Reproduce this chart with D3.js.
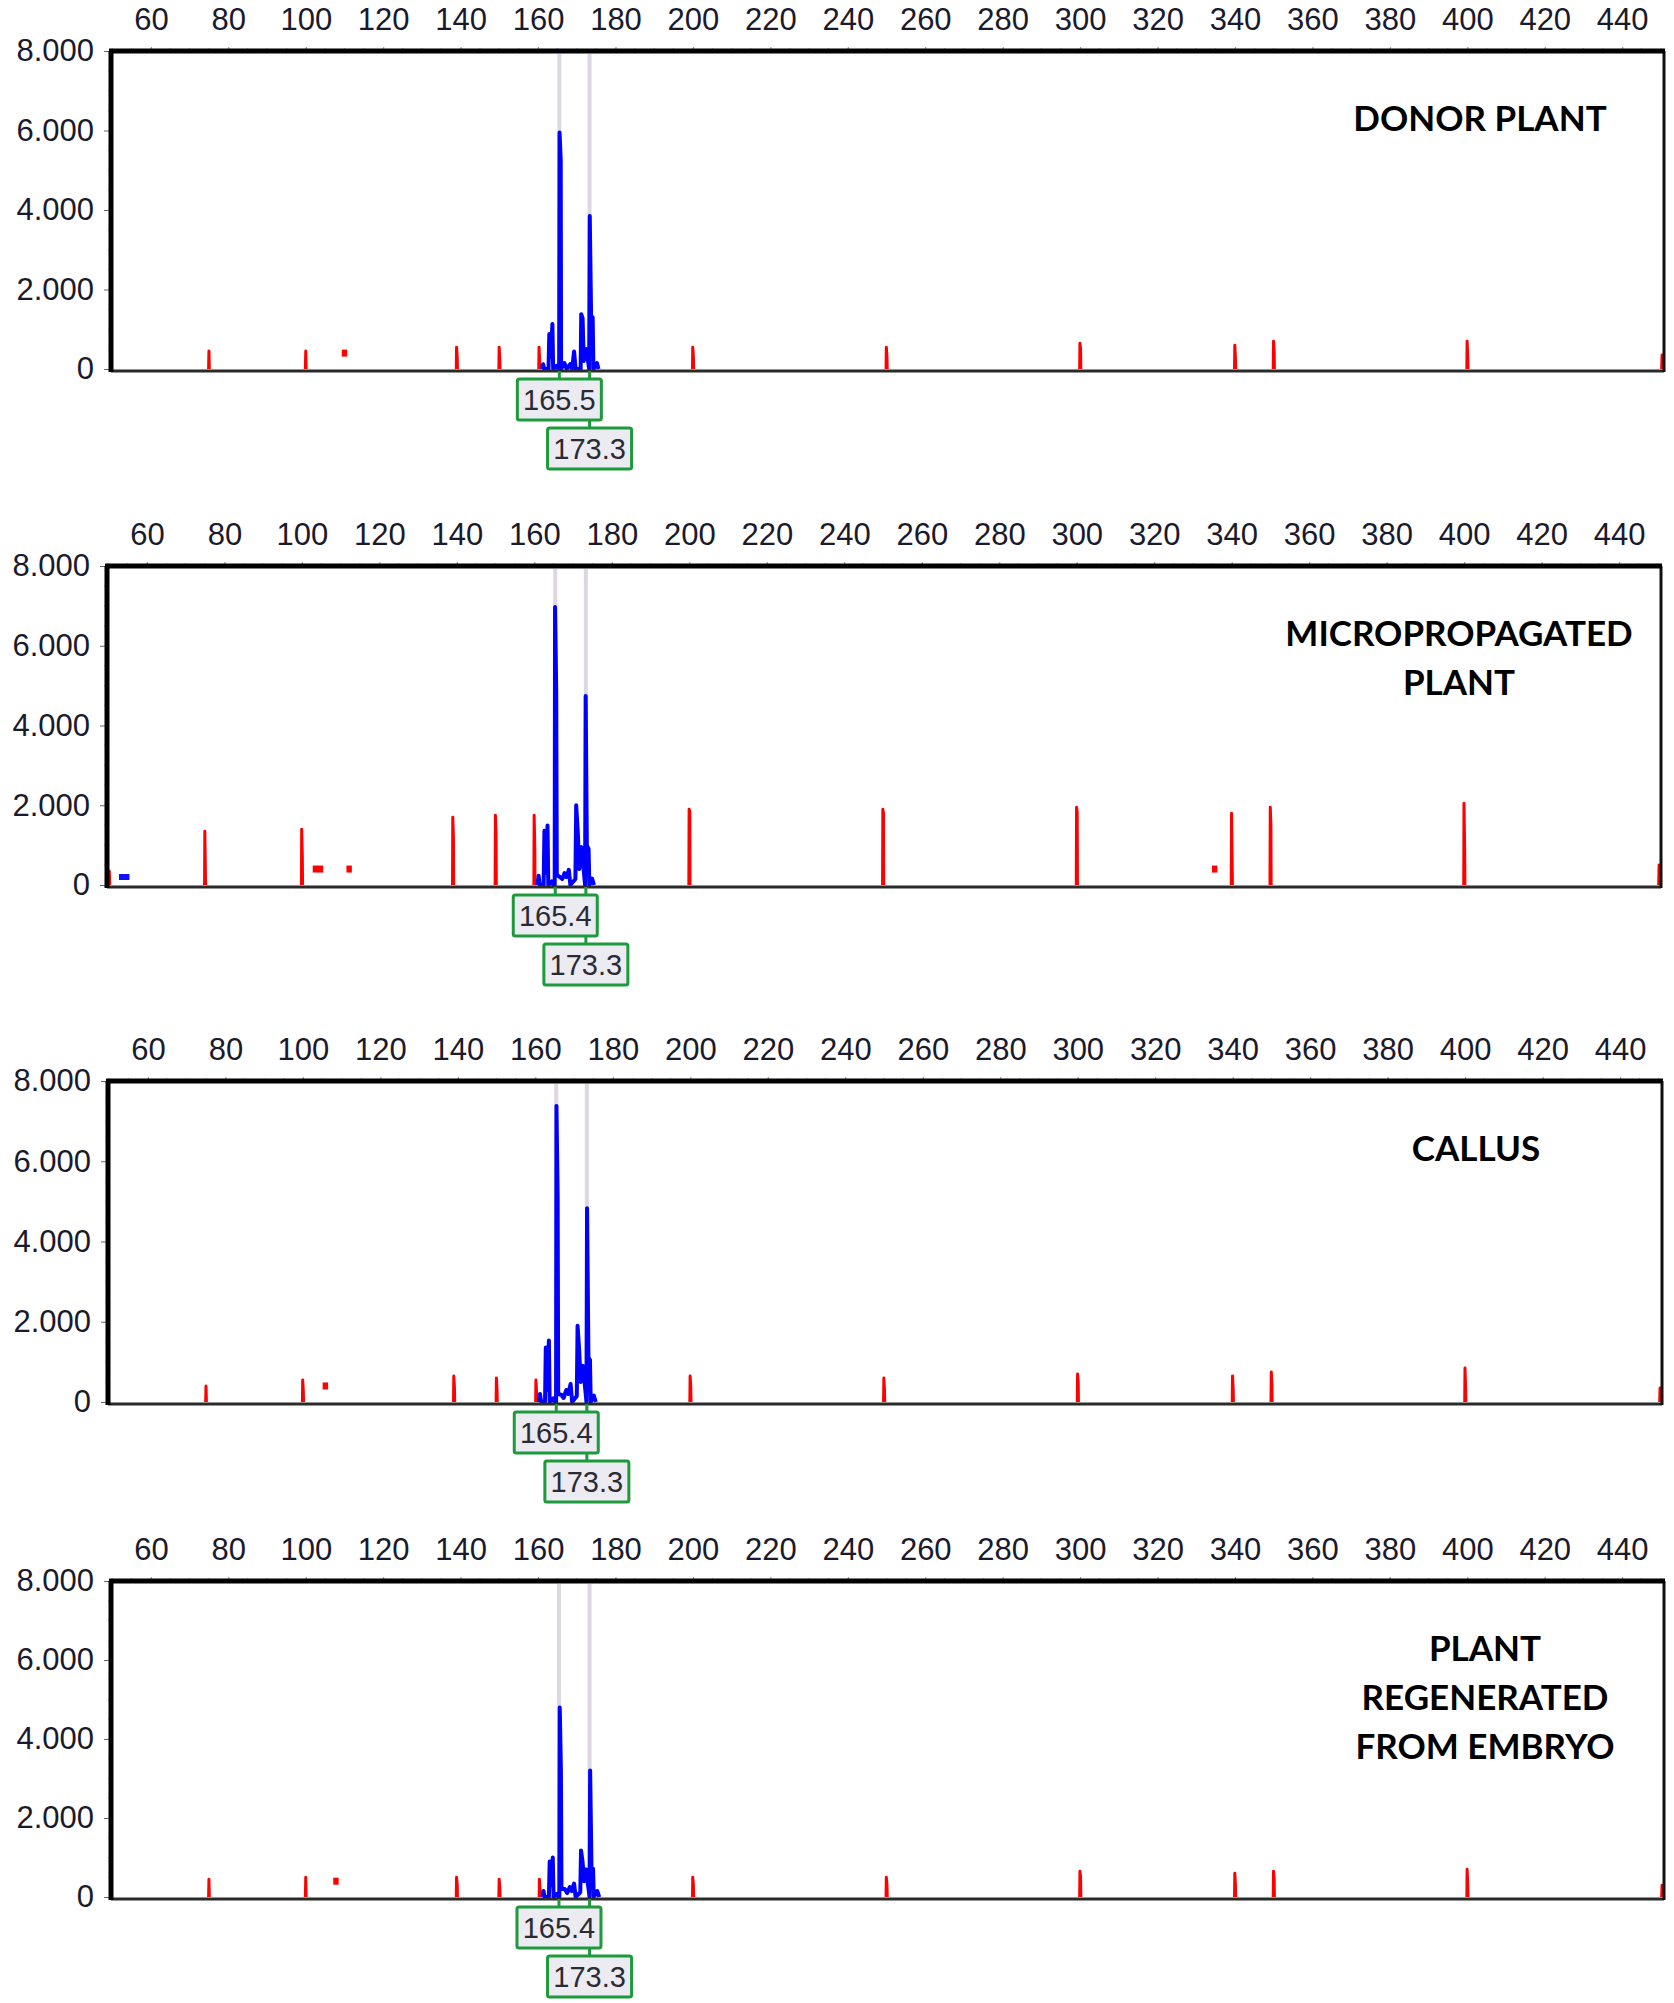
<!DOCTYPE html>
<html><head><meta charset="utf-8">
<script src="https://cdn.jsdelivr.net/npm/d3@7/dist/d3.min.js"></script>
<style>body{margin:0;background:#fff}svg{display:block}</style>
</head><body>
<svg id="chart" width="1674" height="2003"></svg>
<script>
// ---------- DATA ----------
const xTickValues = [60,80,100,120,140,160,180,200,220,240,260,280,300,320,340,360,380,400,420,440];
const yTickValues = [0,2000,4000,6000,8000];
const panelTitles = [
  ["DONOR PLANT"],
  ["MICROPROPAGATED","PLANT"],
  ["CALLUS"],
  ["PLANT","REGENERATED","FROM EMBRYO"]
];
const binCalls = [[165.5,173.3],[165.4,173.3],[165.4,173.3],[165.4,173.3]];

// blue (sample) trace, [size bp, RFU]
const blueDonor = [[161.0,0],[161.3,120],[161.6,0],[162.7,0],[162.9,880],[163.3,300],[163.7,1130],[163.9,0],[164.8,80],[165.2,0],[165.45,0],[165.55,5950],[165.85,5250],[165.95,0],[166.8,150],[167.4,0],[168.3,120],[168.8,0],[169.3,440],[169.7,0],[171.0,0],[171.15,1380],[171.5,1280],[171.8,200],[172.5,500],[173.2,0],[173.35,3850],[173.7,1330],[174.1,1300],[174.3,0],[175.2,150],[175.6,0]];
const blueMicro = [[160.8,0],[161.1,230],[161.4,0],[162.4,0],[162.6,1360],[163.0,300],[163.4,1490],[163.6,0],[164.5,90],[164.9,0],[165.25,0],[165.35,6970],[165.65,4860],[165.8,250],[166.6,200],[167.2,150],[167.8,300],[168.3,200],[168.9,380],[169.3,0],[170.6,150],[170.8,2000],[171.2,1360],[171.6,400],[172.2,950],[173.1,0],[173.25,4740],[173.55,1000],[174.0,900],[174.2,0],[174.9,160],[175.4,0]];
const blueCallus = [[160.9,0],[161.2,200],[161.5,0],[162.5,0],[162.7,1360],[163.1,300],[163.5,1530],[163.7,0],[164.6,90],[165.0,0],[165.35,0],[165.45,7380],[165.75,5200],[165.9,200],[166.7,180],[167.3,100],[168.0,300],[168.5,200],[169.1,450],[169.5,0],[170.7,150],[170.9,1900],[171.3,1320],[171.7,500],[172.3,900],[173.2,0],[173.35,4830],[173.7,1110],[174.1,1050],[174.3,0],[175.1,160],[175.6,0]];
const blueEmbryo = [[161.1,0],[161.4,150],[161.7,0],[162.8,0],[163.0,900],[163.4,300],[163.8,1000],[164.0,0],[164.9,80],[165.3,0],[165.5,0],[165.6,4800],[165.9,3200],[166.05,200],[166.9,200],[167.5,100],[168.2,250],[168.7,150],[169.3,340],[169.7,0],[170.9,120],[171.1,1180],[171.5,885],[171.9,400],[172.4,700],[173.3,0],[173.45,3200],[173.8,720],[174.2,715],[174.4,0],[175.3,150],[175.8,0]];

// red (size standard) peaks, [size bp, RFU, shoulder RFU]
const redDonor  = [[75,450,0],[100,450,0],[139,550,300],[150,550,250],[160.3,550,200],[200,550,300],[250,550,300],[300,650,500],[340,600,250],[350,700,450],[400,700,300],[450.3,350,0]];
const redMicro  = [[50.3,350,0],[75,1350,150],[100,1400,700],[139,1700,1150],[150,1750,1300],[160,1750,900],[200,1900,1850],[250,1900,1800],[300,1950,1800],[340,1800,500],[350,1950,1500],[400,2050,900],[450.3,500,0]];
const redCallus = [[75,400,0],[100,550,250],[139,650,350],[150,600,300],[160.2,550,250],[200,650,350],[250,600,300],[300,700,500],[340,650,300],[350,750,450],[400,850,300],[450.3,350,0]];
const redEmbryo = [[75,450,0],[100,500,0],[139,500,300],[150,450,250],[160.4,450,200],[200,500,300],[250,500,300],[300,650,500],[340,600,300],[350,650,450],[400,700,300],[450.3,300,0]];

// small flat-topped blobs, [size bp, RFU]
const redDotsDonor  = [[110,400]];
const redDotsMicro  = [[103.5,400],[104.8,400],[112.2,400],[335.6,400]];
const redDotsCallus = [[105.8,400]];
const redDotsEmbryo = [[107.8,400]];
const blueDotsMicro = [[53.5,200],[54.8,200]];

// ---------- LAYOUT ----------
const panels = [
  {left:111,right:1664,top:51, bottom:371, titleX:1480, blue:blueDonor, red:redDonor, redDots:redDotsDonor, blueDots:[]},
  {left:107,right:1661,top:566,bottom:887, titleX:1459, blue:blueMicro, red:redMicro, redDots:redDotsMicro, blueDots:blueDotsMicro},
  {left:108,right:1662,top:1081,bottom:1404,titleX:1476, blue:blueCallus, red:redCallus, redDots:redDotsCallus, blueDots:[]},
  {left:111,right:1664,top:1581,bottom:1899,titleX:1485, blue:blueEmbryo, red:redEmbryo, redDots:redDotsEmbryo, blueDots:[]}
];

const locale = d3.formatLocale({decimal:",", thousands:".", grouping:[3], currency:["",""]});
const yFmt = locale.format(",");

const svg = d3.select("#chart");
const labelFont = "'Liberation Sans', Arial, sans-serif";
const labelColor = "#1a1a2c";

panels.forEach((p, i) => {
  const g = svg.append("g");
  const x = d3.scaleLinear().domain([49.7, 450.8]).range([p.left, p.right]);
  const y = d3.scaleLinear().domain([0, 8000]).range([p.bottom - 2, p.top]);

  // top axis
  const topAxis = d3.axisTop(x).tickValues(xTickValues).tickSize(4).tickSizeOuter(0).tickPadding(17);
  const ta = g.append("g").attr("transform", `translate(0,${p.top})`).call(topAxis);
  ta.select(".domain").remove();
  ta.selectAll("line").attr("stroke", "#888");
  ta.selectAll("text").attr("font-family", labelFont).attr("font-size", 31).attr("fill", labelColor);
  // minor top ticks
  g.append("g").selectAll("line").data(d3.range(50, 451, 5)).join("line")
    .attr("x1", d => x(d)).attr("x2", d => x(d)).attr("y1", p.top).attr("y2", p.top - 3)
    .attr("stroke", "#aaa").attr("stroke-width", 1);

  // left axis
  const leftAxis = d3.axisLeft(y).tickValues(yTickValues).tickFormat(yFmt).tickSize(7).tickSizeOuter(0).tickPadding(10);
  const la = g.append("g").attr("transform", `translate(${p.left},0)`).call(leftAxis);
  la.select(".domain").remove();
  la.selectAll("line").attr("stroke", "#666");
  la.selectAll("text").attr("font-family", labelFont).attr("font-size", 31).attr("fill", labelColor);
  g.append("g").selectAll("line").data(d3.range(500, 8000, 500)).join("line")
    .attr("x1", p.left).attr("x2", p.left - 3).attr("y1", d => y(d)).attr("y2", d => y(d))
    .attr("stroke", "#aaa");

  // bin marker lines
  g.append("g").selectAll("line").data(binCalls[i]).join("line")
    .attr("x1", d => x(d)).attr("x2", d => x(d)).attr("y1", p.top + 3).attr("y2", p.bottom)
    .attr("stroke", "#dcd7e2").attr("stroke-width", 4);

  // red size-standard peaks
  const line = d3.line().x(d => x(d[0])).y(d => y(d[1]));
  g.append("g").selectAll("path").data(p.red).join("path")
    .attr("d", d => {
      const pts = d[2] > 0
        ? [[d[0]-0.12,0],[d[0]-0.05,d[1]],[d[0]+0.12,d[2]],[d[0]+0.18,0]]
        : [[d[0]-0.1,0],[d[0],d[1]],[d[0]+0.1,0]];
      return line(pts);
    })
    .attr("fill", "none").attr("stroke", "#ff0000").attr("stroke-width", 3).attr("stroke-linejoin", "round");
  g.append("g").selectAll("line").data(p.redDots).join("line")
    .attr("x1", d => x(d[0]-0.7)).attr("x2", d => x(d[0]+0.7))
    .attr("y1", d => y(d[1])).attr("y2", d => y(d[1]))
    .attr("stroke", "#ff0000").attr("stroke-width", 7);
  g.append("g").selectAll("line").data(p.blueDots).join("line")
    .attr("x1", d => x(d[0]-0.7)).attr("x2", d => x(d[0]+0.7))
    .attr("y1", d => y(d[1])).attr("y2", d => y(d[1]))
    .attr("stroke", "#1010ff").attr("stroke-width", 6);

  // blue trace
  g.append("path").datum(p.blue).attr("d", line)
    .attr("fill", "none").attr("stroke", "#0000ff").attr("stroke-width", 4).attr("stroke-linejoin", "round");

  // frame
  g.append("line").attr("x1", p.left).attr("x2", p.right).attr("y1", p.bottom).attr("y2", p.bottom)
    .attr("stroke", "#2a2a2a").attr("stroke-width", 3);
  g.append("line").attr("x1", p.right).attr("x2", p.right).attr("y1", p.top).attr("y2", p.bottom + 1)
    .attr("stroke", "#111").attr("stroke-width", 3);
  g.append("line").attr("x1", p.left - 2).attr("x2", p.right + 1).attr("y1", p.top).attr("y2", p.top)
    .attr("stroke", "#000").attr("stroke-width", 5);
  g.append("line").attr("x1", p.left).attr("x2", p.left).attr("y1", p.top).attr("y2", p.bottom + 1)
    .attr("stroke", "#000").attr("stroke-width", 5);

  // title
  const t = g.append("text").attr("x", p.titleX).attr("y", p.top + 68)
    .attr("text-anchor", "middle").attr("font-family", "Lato, 'Open Sans', sans-serif")
    .attr("font-weight", "bold").attr("font-size", 35).attr("fill", "#000");
  panelTitles[i].forEach((s, k) => {
    t.append("tspan").attr("x", p.titleX).attr("dy", k === 0 ? "0.35em" : 49).text(s);
  });

  // bin call boxes
  const bw = 84, bh = 41;
  const b1x = x(binCalls[i][0]), b2x = x(binCalls[i][1]);
  const b1y = p.bottom + 8, b2y = b1y + bh + 8;
  g.append("line").attr("x1", b1x).attr("x2", b1x).attr("y1", p.bottom).attr("y2", b1y).attr("stroke", "#1d9a3c").attr("stroke-width", 3);
  g.append("line").attr("x1", b2x).attr("x2", b2x).attr("y1", p.bottom).attr("y2", b1y).attr("stroke", "#1d9a3c").attr("stroke-width", 3);
  g.append("line").attr("x1", b2x).attr("x2", b2x).attr("y1", b1y + bh).attr("y2", b2y).attr("stroke", "#1d9a3c").attr("stroke-width", 3);
  [[b1x, b1y, binCalls[i][0]], [b2x, b2y, binCalls[i][1]]].forEach(([cx, cy, v]) => {
    g.append("rect").attr("x", cx - bw/2).attr("y", cy).attr("width", bw).attr("height", bh)
      .attr("rx", 2).attr("fill", "#ecebf2").attr("stroke", "#1d9a3c").attr("stroke-width", 3);
    g.append("text").attr("x", cx).attr("y", cy + bh/2).attr("dy", "0.36em")
      .attr("text-anchor", "middle").attr("font-family", labelFont).attr("font-size", 29)
      .attr("fill", "#2a2a35").text(v.toFixed(1));
  });
});
</script>
</body></html>
